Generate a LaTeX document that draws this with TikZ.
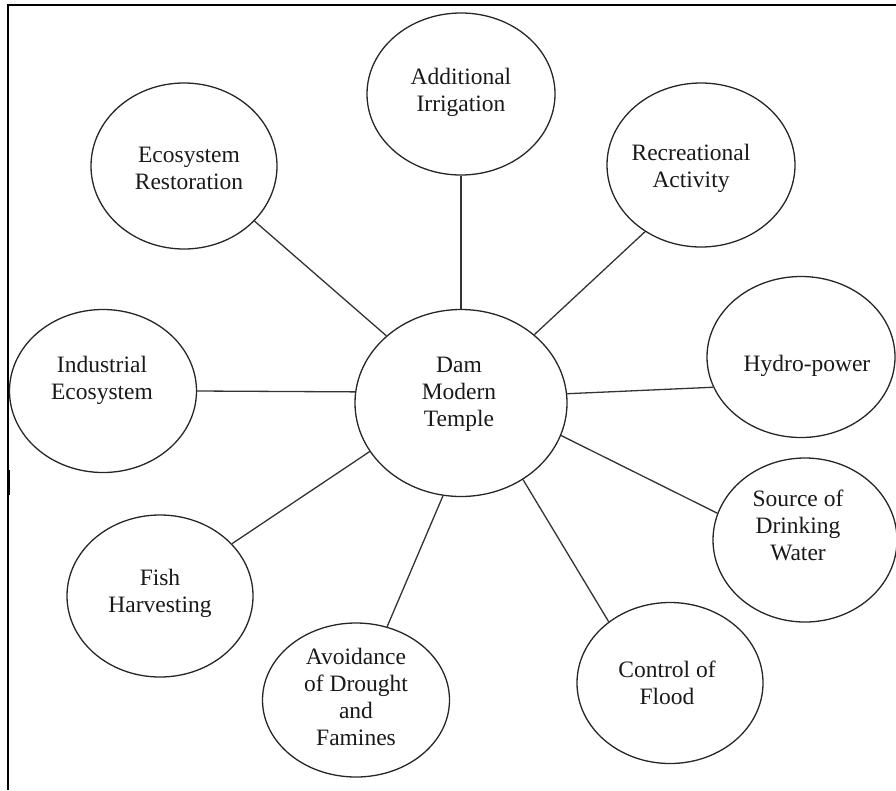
\documentclass[tikz,border=0pt]{standalone}
\usepackage{fontspec}
\setmainfont{Liberation Serif}
\usetikzlibrary{shapes.geometric}
\begin{document}
\begin{tikzpicture}[x=1pt,y=-1pt,
  bub/.style={ellipse, draw=black!85, line width=1.3pt, inner sep=0pt},
  lbl/.style={align=center, font=\fontsize{23.5}{27}\selectfont, inner sep=0pt, text=black!90},
  conn/.style={draw=black!80, line width=1.3pt},
  frameline/.style={line width=2.6pt, black}]
\useasboundingbox (0,0) rectangle (896,790);
% frame
\draw[frameline] (896,5) -- (8,5) -- (8,790);
\draw[line width=1.5pt] (9.5,470) -- (9.5,495);
% ellipses
\node[bub, minimum width=212pt, minimum height=187pt] (C) at (461,403) {};
\node[bub, minimum width=188pt, minimum height=162pt] (add) at (461,94) {};
\node[bub, minimum width=186pt, minimum height=166pt] (eco) at (184,166) {};
\node[bub, minimum width=188pt, minimum height=164pt] (rec) at (701,165) {};
\node[bub, minimum width=188pt, minimum height=161pt] (hyd) at (801,357) {};
\node[bub, minimum width=187pt, minimum height=163pt] (ind) at (103,391) {};
\node[bub, minimum width=184pt, minimum height=164pt] (src) at (805,540) {};
\node[bub, minimum width=186pt, minimum height=162pt] (fish) at (160,596) {};
\node[bub, minimum width=187pt, minimum height=154pt] (avo) at (356,700) {};
\node[bub, minimum width=186pt, minimum height=161pt] (ctl) at (670,683) {};
% texts
\node[lbl] (tC) at (459,394.5) {Dam\\Modern\\Temple};
\node[lbl] (tadd) at (461,92) {Additional\\Irrigation};
\node[lbl] (teco) at (189,168) {Ecosystem\\Restoration};
\node[lbl] (trec) at (691,168) {Recreational\\Activity};
\node[lbl] (thyd) at (807,365.5) {Hydro-power};
\node[lbl] (tind) at (102,380.5) {Industrial\\Ecosystem};
\node[lbl] (tsrc) at (798,525) {Source of\\Drinking\\Water};
\node[lbl] (tfish) at (160,593.5) {Fish\\Harvesting};
\node[lbl] (tavo) at (356,697) {Avoidance\\of Drought\\and\\Famines};
\node[lbl] (tctl) at (667,683) {Control of\\Flood};
% connectors
\draw[conn] (C.138.7) -- (eco.-38.7);
\draw[conn] (C.90) -- (add.-90);
\draw[conn] (C.43.4) -- (rec.-130.9);
\draw[conn] (C.5.9) -- (hyd.199.9);
\draw[conn] (C.-18.1) -- (src.163.2);
\draw[conn] (C.-51.5) -- (ctl.135.9);
\draw[conn] (C.-101) -- (avo.67);
\draw[conn] (C.-152.5) -- (fish.36.3);
\draw[conn] (C.174.6) -- (ind.0);
\end{tikzpicture}
\end{document}
